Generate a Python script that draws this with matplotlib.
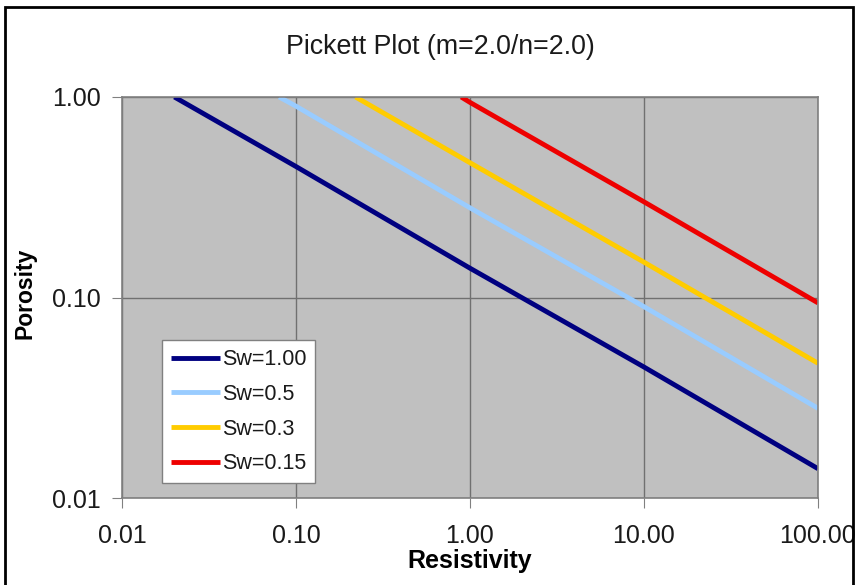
import matplotlib.pyplot as plt
from matplotlib.patches import Rectangle

# Pickett plot data
labels = ["Sw=1.00", "Sw=0.5", "Sw=0.3", "Sw=0.15"]
colors = ["#000080", "#99ccff", "#ffcc00", "#ee0000"]
res_sw100 = [0.02, 0.1, 1.0, 10.0, 100.0]
por_sw100 = [1.0, 0.45, 0.14, 0.045, 0.014]
res_sw050 = [0.08, 0.1, 1.0, 10.0, 100.0]
por_sw050 = [1.0, 0.90, 0.28, 0.09, 0.028]
res_sw030 = [0.22, 1.0, 10.0, 100.0]
por_sw030 = [1.0, 0.47, 0.15, 0.047]
res_sw015 = [0.89, 1.0, 10.0, 100.0]
por_sw015 = [1.0, 0.94, 0.30, 0.094]

x_ticks = [0.01, 0.1, 1, 10, 100]
x_labels = ["0.01", "0.10", "1.00", "10.00", "100.00"]
y_ticks = [0.01, 0.1, 1]
y_labels = ["0.01", "0.10", "1.00"]

plt.rcParams["font.family"] = ["Liberation Sans", "DejaVu Sans"]

fig = plt.figure(figsize=(8.58, 5.85), dpi=100)
ax = fig.add_axes([122/858, 1-498/585, (818-122)/858, (498-97)/585])
ax.set_facecolor("#c0c0c0")

series = [(res_sw100, por_sw100), (res_sw050, por_sw050),
          (res_sw030, por_sw030), (res_sw015, por_sw015)]
for (xs, ys), lab, col in zip(series, labels, colors):
    ax.plot(xs, ys, color=col, linewidth=3.5, label=lab, solid_capstyle="butt")

ax.set_xscale("log")
ax.set_yscale("log")
ax.set_xlim(0.01, 100)
ax.set_ylim(0.01, 1)
ax.set_xticks(x_ticks)
ax.set_xticklabels(x_labels)
ax.set_yticks(y_ticks)
ax.set_yticklabels(y_labels)
ax.minorticks_off()
ax.tick_params(axis="both", labelsize=18, length=7, color="#808080", labelcolor="#1a1a1a")
ax.tick_params(axis="x", pad=12)
ax.tick_params(axis="y", pad=8)
ax.grid(True, color="#707070", linewidth=1)
ax.set_axisbelow(True)
for s in ax.spines.values():
    s.set_color("#808080")
    s.set_linewidth(1.2)

ax.set_xlabel("Resistivity", fontsize=18, fontweight="bold")
ax.xaxis.set_label_coords(0.5, -0.128)
ax.set_ylabel("Porosity", fontsize=16.5, fontweight="bold")
ax.yaxis.set_label_coords(-0.123, 0.51)
fig.text(0.5 * (283 + 598) / 858, 1 - 47/585, "Pickett Plot (m=2.0/n=2.0)",
         fontsize=19.3, ha="center", va="center", color="#1a1a1a")

leg = ax.legend(loc="lower left", bbox_to_anchor=(40/696, 15/401), fontsize=15.5,
                frameon=True, fancybox=False, handlelength=2.3, handletextpad=0.1,
                labelspacing=0.64, borderpad=0.4, borderaxespad=0)
leg.get_frame().set_edgecolor("#808080")
leg.get_frame().set_facecolor("white")
leg.get_frame().set_alpha(1)
for t in leg.get_texts():
    t.set_color("#1a1a1a")

# outer chart frame
fig.patches.append(Rectangle((5/858, -0.02), (853-5)/858, 1-7/585+0.02,
                             transform=fig.transFigure, fill=False,
                             edgecolor="black", linewidth=2))

fig.savefig("out.png", dpi=100)
